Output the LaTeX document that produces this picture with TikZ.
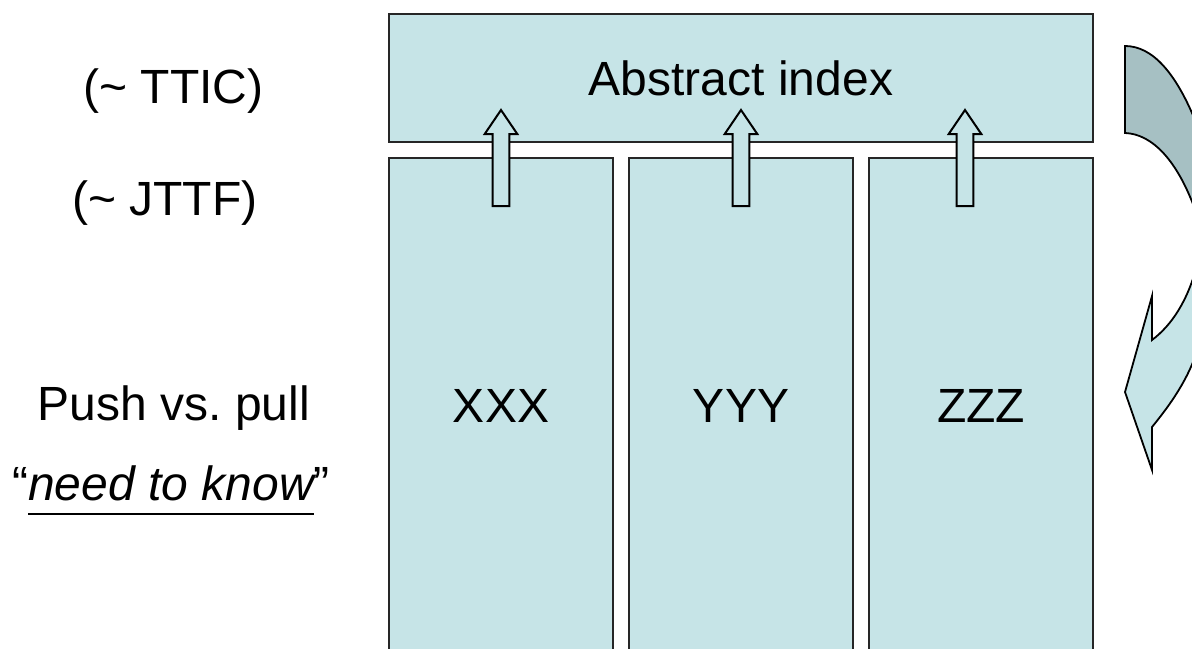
\documentclass[tikz,border=0pt]{standalone}
\usepackage{fontspec}
\setmainfont{Liberation Sans}
\frenchspacing
\definecolor{boxfill}{RGB}{198,228,231}
\definecolor{darkfill}{RGB}{166,192,195}
\newcommand\ulitalic[1]{\setbox0\hbox{\itshape #1}\rlap{\rule[-7.5pt]{\wd0}{0.8pt}}\box0}
\begin{document}
\begin{tikzpicture}[x=0.5pt,y=-0.5pt,
  every node/.style={font=\fontsize{24}{28}\selectfont},
  panel/.style={draw=black!85, line width=0.9pt, fill=boxfill, inner sep=0pt, rectangle},
  column/.style={panel, minimum width=112pt, minimum height=247.5pt},
  blockarrow/.style={draw=black, line width=1pt, fill=boxfill, line join=miter},
  turnback/.style={draw=black, line width=0.9pt, fill=darkfill},
  turnfront/.style={draw=black, line width=0.9pt, fill=boxfill},
  label/.style={anchor=base, inner sep=0pt}]
\useasboundingbox (0,0) rectangle (1192,648);
\clip (0,0) rectangle (1192,648);
% boxes
\node[panel, minimum width=352pt, minimum height=64pt] (top) at (741,78) {Abstract index};
\node[column] (xxx) at (501,405.5) {XXX};
\node[column] (yyy) at (741,405.5) {YYY};
\node[column] (zzz) at (981,405.5) {ZZZ};
% block arrows
\foreach \c/\n in {501/a1,741/a2,965/a3}{
  \coordinate (\n) at (\c,206);
  \draw[blockarrow] (\n) ++(-8.3,0) -- ++(0,-72) -- ++(-8,0) -- ++(16.3,-24)
     -- ++(16.3,24) -- ++(-8,0) -- ++(0,72) -- cycle;
}
% curved arrow (clipped at right edge)
\coordinate (cbtop) at (1125,46);
\coordinate (cbbot) at (1125,133);
\draw[turnback] (cbtop) .. controls (1152,46) and (1176,72) .. (1197,125)
   -- (1197,215) .. controls (1178,160) and (1152,134) .. (cbbot) -- cycle;
\coordinate (tip) at (1125,392);
\draw[turnfront] (1197,265) .. controls (1188,300) and (1172,325) .. (1152,340)
   -- (1152,296) -- (tip) -- (1152,470) -- (1152,427)
   .. controls (1170,405) and (1192,375) .. (1200,340) -- cycle;
% left texts
\node[label] (ttic) at (173.5,103) {(\textasciitilde{} TTIC)};
\node[label] (jttf) at (165,215) {(\textasciitilde{} JTTF)};
\node[label] (push) at (174,420) {Push vs. pull};
\node[label] (need) at (171,500) {“\ulitalic{need to know}”};
\end{tikzpicture}
\end{document}
